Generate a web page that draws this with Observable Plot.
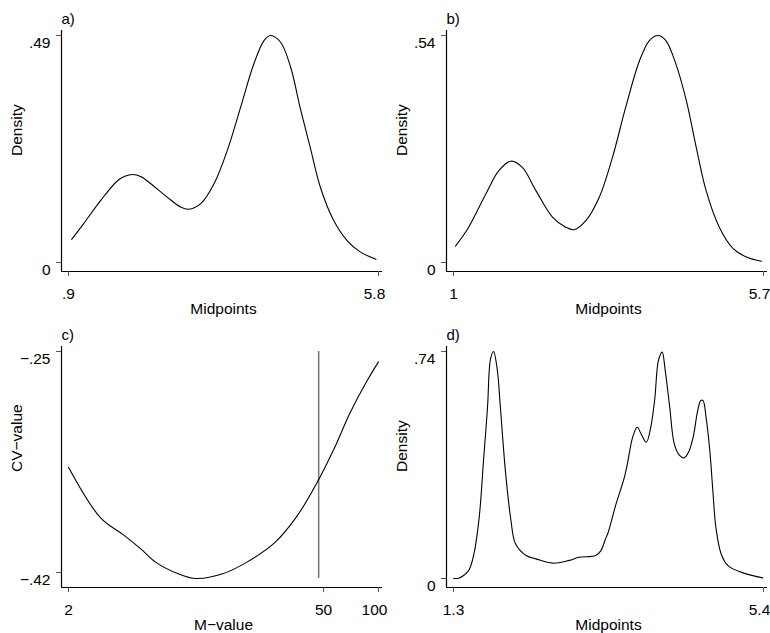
<!DOCTYPE html>
<html>
<head>
<meta charset="utf-8">
<script src="https://cdn.jsdelivr.net/npm/d3@7"></script>
<script src="https://cdn.jsdelivr.net/npm/@observablehq/plot@0.6"></script>
<style>
  html, body { margin: 0; padding: 0; background: #fff; }
  #wrap { position: relative; width: 770px; height: 633px; overflow: hidden; }
  .panel { position: absolute; width: 385px; height: 316px; }
  svg { font-family: "Liberation Sans", Arial, Helvetica, sans-serif; }
</style>
</head>
<body>
<div id="wrap"></div>
<script>
// ---------- data ----------
// panel a) kernel density
const aX = [0.95, 1.14, 1.41, 1.67, 1.79, 1.91, 2.05, 2.20, 2.46, 2.67, 2.80, 2.99, 3.20, 3.41, 3.62, 3.83, 3.99, 4.09, 4.25, 4.41, 4.56, 4.72, 4.88, 5.09, 5.30, 5.51, 5.76];
const aY = [0.050, 0.084, 0.134, 0.176, 0.186, 0.190, 0.185, 0.170, 0.141, 0.120, 0.115, 0.127, 0.170, 0.242, 0.335, 0.429, 0.479, 0.490, 0.476, 0.422, 0.335, 0.249, 0.163, 0.091, 0.048, 0.023, 0.007];
const aXTicks = [0.9, 5.8], aXLabels = [".9", "5.8"];
const aYTicks = [0, 0.49], aYLabels = ["0", ".49"];

// panel b) kernel density
const bX = [1.03, 1.23, 1.49, 1.69, 1.87, 2.04, 2.25, 2.50, 2.70, 2.83, 3.01, 3.21, 3.41, 3.61, 3.82, 3.97, 4.10, 4.22, 4.37, 4.53, 4.68, 4.83, 5.03, 5.24, 5.44, 5.67];
const bY = [0.039, 0.084, 0.163, 0.219, 0.241, 0.227, 0.171, 0.108, 0.084, 0.078, 0.100, 0.155, 0.250, 0.369, 0.480, 0.528, 0.540, 0.528, 0.473, 0.385, 0.274, 0.171, 0.084, 0.033, 0.013, 0.003];
const bXTicks = [1, 5.7], bXLabels = ["1", "5.7"];
const bYTicks = [0, 0.54], bYLabels = ["0", ".54"];

// panel c) cross-validation curve
const cM = [2, 3, 4, 5, 6, 8, 10, 14, 19, 27, 36, 46, 57, 70, 87, 100];
const cV = [-0.339, -0.378, -0.391, -0.402, -0.412, -0.421, -0.4246, -0.421, -0.412, -0.397, -0.376, -0.351, -0.325, -0.297, -0.272, -0.258];
const cXTicks = [2, 50, 100], cXLabels = ["2", "50", "100"];
const cYTicks = [-0.42, -0.25], cYLabels = ["\u2212.42", "\u2212.25"];
const cMarker = [47];

// panel d) kernel density (small bandwidth)
const dX = [1.30, 1.38, 1.50, 1.57, 1.64, 1.70, 1.75, 1.79, 1.83, 1.88, 1.92, 1.99, 2.06, 2.12, 2.26, 2.39, 2.61, 2.83, 2.96, 3.18, 3.25, 3.31, 3.34, 3.45, 3.56, 3.60, 3.67, 3.73, 3.78, 3.85, 3.90, 3.96, 4.01, 4.06, 4.10, 4.16, 4.22, 4.29, 4.35, 4.41, 4.47, 4.53, 4.57, 4.60, 4.64, 4.69, 4.73, 4.77, 4.84, 4.93, 5.11, 5.39];
const dY = [0.000, 0.002, 0.026, 0.080, 0.200, 0.395, 0.558, 0.716, 0.740, 0.678, 0.558, 0.341, 0.189, 0.113, 0.075, 0.064, 0.050, 0.059, 0.069, 0.075, 0.091, 0.129, 0.146, 0.243, 0.330, 0.374, 0.461, 0.493, 0.472, 0.444, 0.482, 0.580, 0.710, 0.738, 0.678, 0.558, 0.439, 0.401, 0.393, 0.412, 0.461, 0.548, 0.580, 0.580, 0.526, 0.417, 0.287, 0.167, 0.080, 0.042, 0.020, 0.002];
const dXTicks = [1.3, 5.4], dXLabels = ["1.3", "5.4"];
const dYTicks = [0, 0.74], dYLabels = ["0", ".74"];

// ---------- drawing ----------
const FONT = 15.5;
const W = 385, H = 316;
const ML = 61, MR = 3, MT = 30, MB = 45;
const INL = 7, INR = 4, INT = 5, INB = 9;

function panel(o) {
  const idx = d3.range(o.xs.length);
  const xDomain = o.xDomain, yDomain = o.yDomain;
  const firstX = o.xTicks.slice(0, -1), lastX = o.xTicks.slice(-1);
  const marks = [
    Plot.ruleY([yDomain[0]], {dy: INB, stroke: "#000", strokeWidth: 1.2}),
    Plot.ruleX([xDomain[0]], {dx: -INL, stroke: "#000", strokeWidth: 1.2}),
    Plot.axisX({ticks: o.xTicks, tickFormat: () => "", tickSize: 5, stroke: "#555", label: null}),
    Plot.axisY({ticks: o.yTicks, tickFormat: () => "", tickSize: 5, stroke: "#555", label: null}),
    Plot.text(firstX, {x: d => d, text: d => o.xLabels[o.xTicks.indexOf(d)], frameAnchor: "bottom", dy: 16, lineAnchor: "top", fill: "#000"}),
    Plot.text(lastX, {x: d => d, text: d => o.xLabels[o.xTicks.indexOf(d)], frameAnchor: "bottom", dy: 16, dx: -4, lineAnchor: "top", fill: "#000"}),
    Plot.text(o.yTicks, {y: d => d, text: d => o.yLabels[o.yTicks.indexOf(d)], frameAnchor: "left", dx: -11, dy: 8, textAnchor: "end", fill: "#000"}),
    Plot.text([o.xTitle], {text: d => d, frameAnchor: "bottom", dx: 1.5, dy: 42, lineAnchor: "bottom", fill: "#000"}),
    Plot.text([o.yTitle], {text: d => d, frameAnchor: "left", dx: -44, dy: 5, rotate: -90, fill: "#000"}),
    Plot.text([o.tag], {text: d => d, frameAnchor: "top-left", dy: -6.5, textAnchor: "start", lineAnchor: "bottom", fontSize: 15, fill: "#000"})
  ];
  if (o.vline) {
    marks.push(Plot.ruleX(o.vline, {x: d => d, y1: () => yDomain[0], y2: () => yDomain[1], stroke: "#777", strokeWidth: 1.5}));
  }
  marks.push(Plot.line(idx, {x: i => o.xs[i], y: i => o.ys[i], curve: o.curve, stroke: "#000", strokeWidth: 1.1}));
  return Plot.plot({
    width: W, height: H,
    marginLeft: ML, marginRight: MR, marginTop: MT, marginBottom: MB,
    x: {type: o.xType || "linear", domain: xDomain, insetLeft: INL, insetRight: INR},
    y: {domain: yDomain, insetTop: INT, insetBottom: INB},
    style: {fontFamily: '"Liberation Sans", Arial, Helvetica, sans-serif', fontSize: FONT + "px", background: "transparent", overflow: "visible", color: "#000"},
    marks
  });
}

const specs = [
  {left: 0, top: 0, xs: aX, ys: aY, xTicks: aXTicks, xLabels: aXLabels, yTicks: aYTicks, yLabels: aYLabels,
   xDomain: [aXTicks[0], aXTicks[1]], yDomain: [0, aYTicks[1]], xTitle: "Midpoints", yTitle: "Density", tag: "a)", curve: "catmull-rom"},
  {left: 385, top: 0, xs: bX, ys: bY, xTicks: bXTicks, xLabels: bXLabels, yTicks: bYTicks, yLabels: bYLabels,
   xDomain: [bXTicks[0], bXTicks[1]], yDomain: [0, bYTicks[1]], xTitle: "Midpoints", yTitle: "Density", tag: "b)", curve: "catmull-rom"},
  {left: 0, top: 316, xs: cM, ys: cV, xTicks: cXTicks, xLabels: cXLabels, yTicks: cYTicks, yLabels: cYLabels,
   xType: "log", xDomain: [cXTicks[0], cXTicks[2]], yDomain: [d3.min(cV), cYTicks[1]], xTitle: "M\u2212value", yTitle: "CV\u2212value", tag: "c)", curve: "catmull-rom", vline: cMarker},
  {left: 385, top: 316, xs: dX, ys: dY, xTicks: dXTicks, xLabels: dXLabels, yTicks: dYTicks, yLabels: dYLabels,
   xDomain: [dXTicks[0], dXTicks[1]], yDomain: [0, dYTicks[1]], xTitle: "Midpoints", yTitle: "Density", tag: "d)", curve: "catmull-rom"}
];

const wrap = document.getElementById("wrap");
for (const s of specs) {
  const div = document.createElement("div");
  div.className = "panel";
  div.style.left = s.left + "px";
  div.style.top = s.top + "px";
  div.appendChild(panel(s));
  wrap.appendChild(div);
}
</script>
</body>
</html>
